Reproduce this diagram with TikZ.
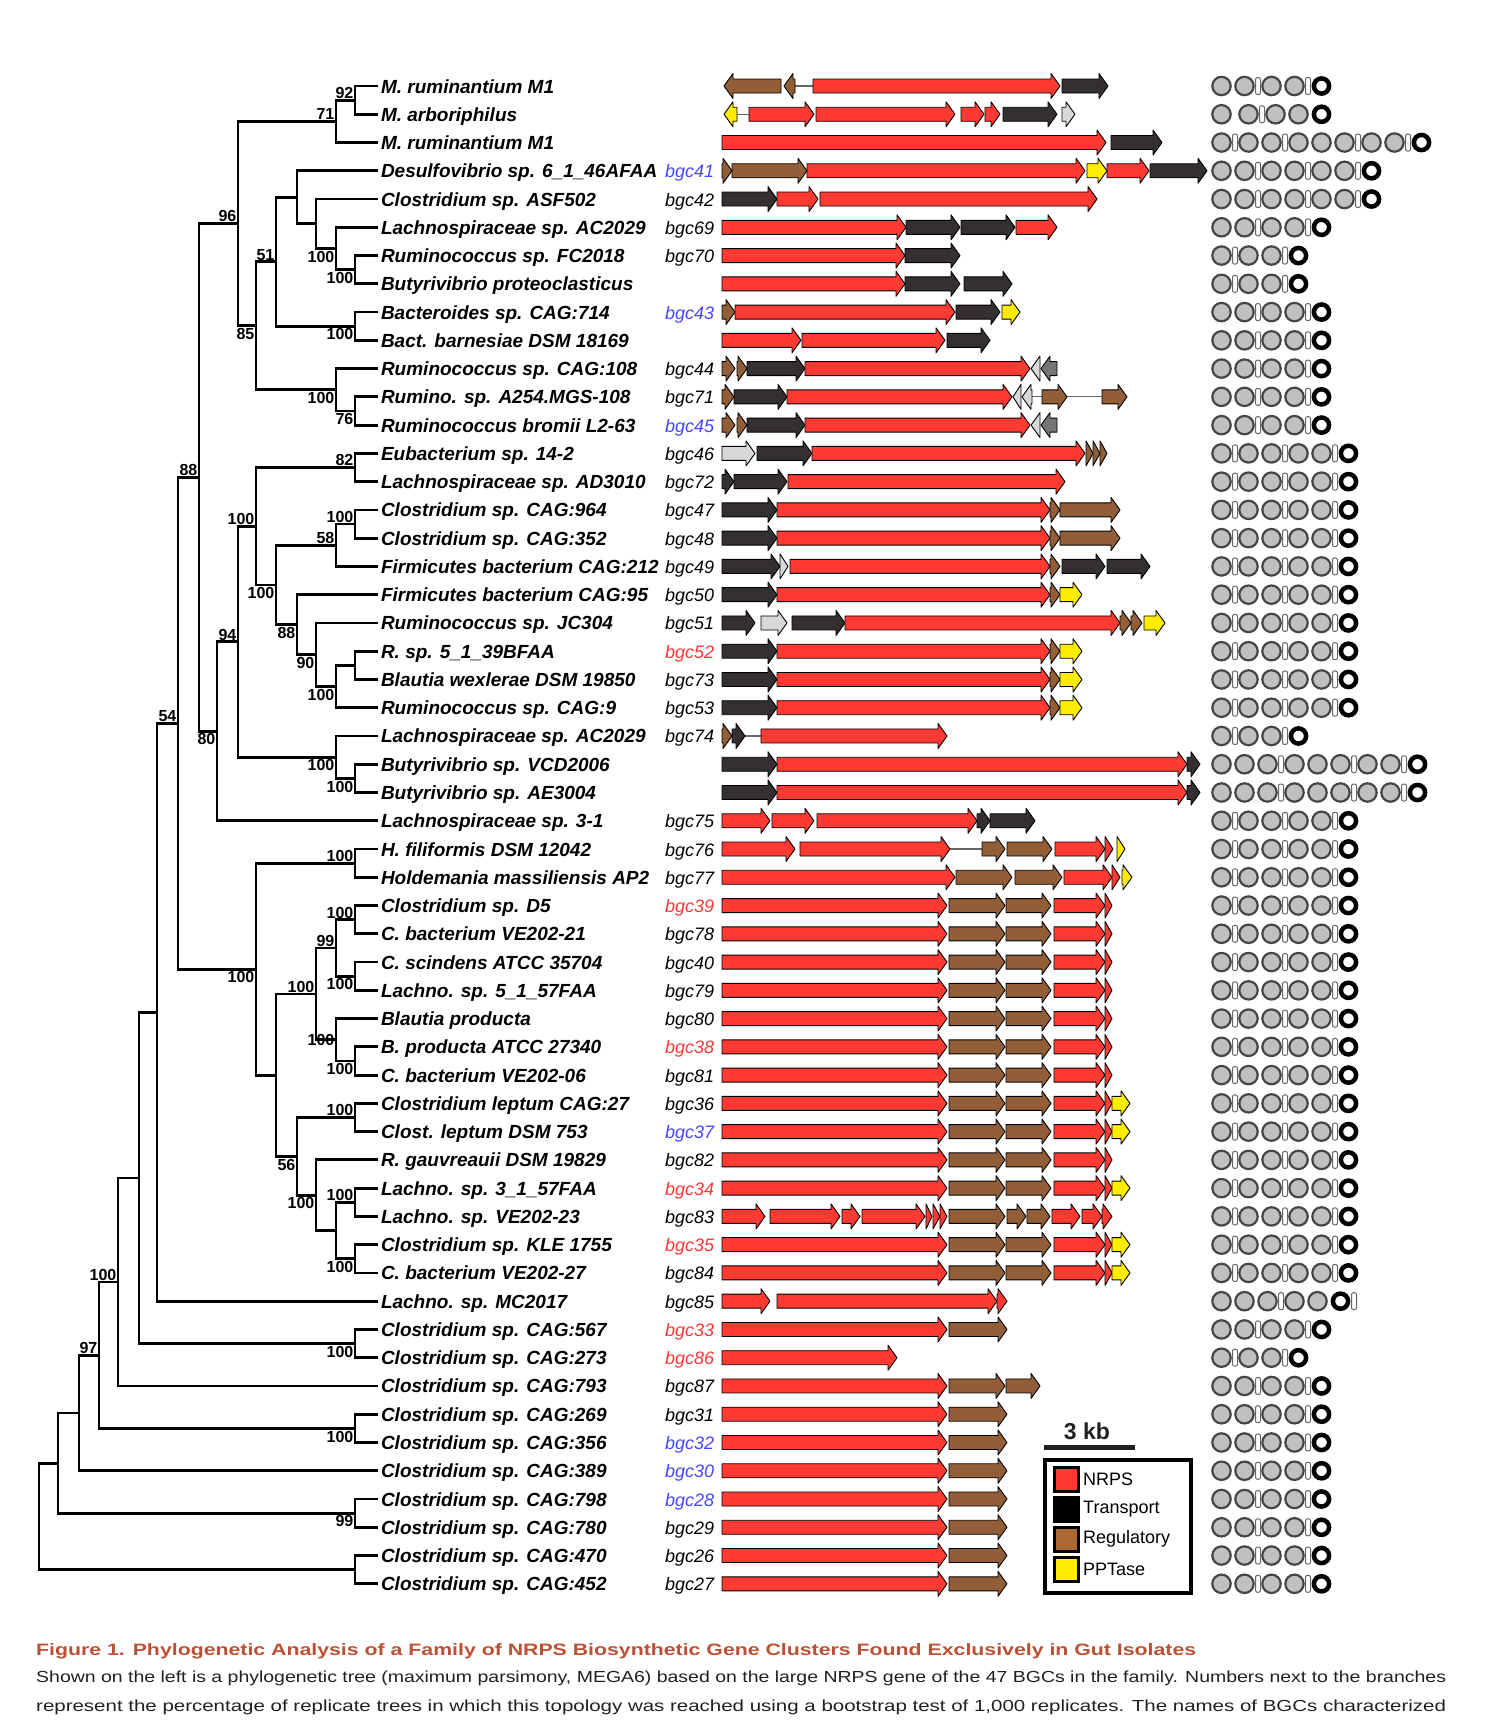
\documentclass[tikz,border=0pt]{standalone}
\usepackage{fontspec}
\setmainfont{Liberation Sans}
\usetikzlibrary{positioning}

\definecolor{nrpsred}{RGB}{255,58,51}
\definecolor{transgray}{RGB}{52,48,50}
\definecolor{regubrown}{RGB}{146,94,56}
\definecolor{keybrown}{RGB}{172,104,50}
\definecolor{pptyellow}{RGB}{255,236,0}
\definecolor{otherlight}{RGB}{216,216,216}
\definecolor{othergrey}{RGB}{118,118,118}
\definecolor{domgray}{RGB}{192,192,192}
\definecolor{domring}{RGB}{70,70,70}
\definecolor{bgcblue}{RGB}{70,70,255}
\definecolor{bgcred}{RGB}{255,55,55}
\definecolor{capred}{RGB}{188,80,52}
\definecolor{captext}{RGB}{35,31,32}

\tikzset{
  branch/.style={line width=2.8pt},
  taxon/.style={anchor=west, inner sep=0pt, outer sep=3pt, text height=14pt, text depth=0pt,
    font=\fontsize{19}{21}\selectfont\bfseries\itshape},
  bgc/.style={anchor=west, inner sep=0pt, text height=14pt, text depth=0pt,
    font=\fontsize{18}{20}\selectfont\itshape},
  bs/.style={inner sep=1.5pt, text height=12pt, text depth=0pt,
    font=\fontsize{16}{18}\selectfont\bfseries},
  gene/.style={draw=black, line width=0.9pt, line join=round},
  gnrps/.style={gene, fill=nrpsred},
  gtrans/.style={gene, fill=transgray},
  greg/.style={gene, fill=regubrown},
  gppt/.style={gene, fill=pptyellow},
  gother/.style={gene, fill=otherlight},
  ggrey/.style={gene, fill=othergrey},
  adom/.style={fill=domgray, draw=domring, line width=2.2pt},
  tedom/.style={fill=white, draw=black, line width=4.5pt},
  tdom/.style={fill=white, draw=black!60, line width=1pt, rounded corners=2pt},
  key/.style={draw=black, line width=3pt, minimum size=24pt, inner sep=0pt},
  keytext/.style={inner sep=0pt, font=\fontsize{18}{20}\selectfont},
  capline/.style={anchor=base west, inner sep=0pt}
}

\newlength\fitw
\newcommand{\fitline}[2]{\settowidth{\fitw}{#2}\pgfmathsetmacro\fitr{#1/\fitw}\scalebox{\fitr}[1]{#2}}

\newcommand{\gR}[4]{%
  \pgfmathsetmacro\gy{86+(#3-1)*28.26}%
  \pgfmathsetmacro\gh{min(9,#2-#1)}%
  \path[#4] (#1,\gy-7) -- ({#2-\gh},\gy-7) -- ({#2-\gh},\gy-12.5) -- (#2,\gy)
    -- ({#2-\gh},\gy+12.5) -- ({#2-\gh},\gy+7) -- (#1,\gy+7) -- cycle;}
\newcommand{\gL}[4]{%
  \pgfmathsetmacro\gy{86+(#3-1)*28.26}%
  \pgfmathsetmacro\gh{min(9,#2-#1)}%
  \path[#4] (#2,\gy-7) -- ({#1+\gh},\gy-7) -- ({#1+\gh},\gy-12.5) -- (#1,\gy)
    -- ({#1+\gh},\gy+12.5) -- ({#1+\gh},\gy+7) -- (#2,\gy+7) -- cycle;}
\newcommand{\gline}[3]{%
  \pgfmathsetmacro\gy{86+(#3-1)*28.26}%
  \draw[black!60, line width=1.2pt] (#1,\gy) -- (#2,\gy);}
\newcommand{\doms}[2]{%
  \pgfmathsetmacro\dy{86+(#1-1)*28.26}%
  \gdef\dcur{1210}%
  \foreach \dm in {#2}{%
    \if\dm t%
      \draw[tdom] ({\dcur-0.5},\dy-8.5) rectangle ({\dcur+4.5},\dy+8.5);%
      \pgfmathsetmacro\dnew{\dcur+4}%
    \else\if\dm g%
      \pgfmathsetmacro\dnew{\dcur+4}%
    \else\if\dm e%
      \draw[tedom] ({\dcur+11.5},\dy) circle [radius=7.6];%
      \pgfmathsetmacro\dnew{\dcur+23}%
    \else
      \draw[adom] ({\dcur+11.5},\dy) circle [radius=9.2];%
      \pgfmathsetmacro\dnew{\dcur+23}%
    \fi\fi\fi
    \xdef\dcur{\dnew}%
  }}

\begin{document}
\begin{tikzpicture}[x=1pt,y=-1pt]
\useasboundingbox (0,0) rectangle (1495,1725);

\foreach \r/\t in {1/{M. ruminantium M1}, 2/{M. arboriphilus}, 3/{M. ruminantium M1},
  4/{Desulfovibrio sp. 6\_1\_46AFAA}, 5/{Clostridium sp. ASF502}, 6/{Lachnospiraceae sp. AC2029},
  7/{Ruminococcus sp. FC2018}, 8/{Butyrivibrio proteoclasticus}, 9/{Bacteroides sp. CAG:714},
  10/{Bact. barnesiae DSM 18169}, 11/{Ruminococcus sp. CAG:108}, 12/{Rumino. sp. A254.MGS-108},
  13/{Ruminococcus bromii L2-63}, 14/{Eubacterium sp. 14-2}, 15/{Lachnospiraceae sp. AD3010},
  16/{Clostridium sp. CAG:964}, 17/{Clostridium sp. CAG:352}, 18/{Firmicutes bacterium CAG:212},
  19/{Firmicutes bacterium CAG:95}, 20/{Ruminococcus sp. JC304}, 21/{R. sp. 5\_1\_39BFAA},
  22/{Blautia wexlerae DSM 19850}, 23/{Ruminococcus sp. CAG:9}, 24/{Lachnospiraceae sp. AC2029},
  25/{Butyrivibrio sp. VCD2006}, 26/{Butyrivibrio sp. AE3004}, 27/{Lachnospiraceae sp. 3-1},
  28/{H. filiformis DSM 12042}, 29/{Holdemania massiliensis AP2}, 30/{Clostridium sp. D5},
  31/{C. bacterium VE202-21}, 32/{C. scindens ATCC 35704}, 33/{Lachno. sp. 5\_1\_57FAA},
  34/{Blautia producta}, 35/{B. producta ATCC 27340}, 36/{C. bacterium VE202-06},
  37/{Clostridium leptum CAG:27}, 38/{Clost. leptum DSM 753}, 39/{R. gauvreauii DSM 19829},
  40/{Lachno. sp. 3\_1\_57FAA}, 41/{Lachno. sp. VE202-23}, 42/{Clostridium sp. KLE 1755},
  43/{C. bacterium VE202-27}, 44/{Lachno. sp. MC2017}, 45/{Clostridium sp. CAG:567},
  46/{Clostridium sp. CAG:273}, 47/{Clostridium sp. CAG:793}, 48/{Clostridium sp. CAG:269},
  49/{Clostridium sp. CAG:356}, 50/{Clostridium sp. CAG:389}, 51/{Clostridium sp. CAG:798},
  52/{Clostridium sp. CAG:780}, 53/{Clostridium sp. CAG:470}, 54/{Clostridium sp. CAG:452}}
  \node[taxon] (s\r) at (378,{86+(\r-1)*28.26}) {\t};

\foreach \r/\b/\c in {4/41/bgcblue, 5/42/black, 6/69/black, 7/70/black, 9/43/bgcblue, 11/44/black,
  12/71/black, 13/45/bgcblue, 14/46/black, 15/72/black, 16/47/black, 17/48/black, 18/49/black,
  19/50/black, 20/51/black, 21/52/bgcred, 22/73/black, 23/53/black, 24/74/black, 27/75/black,
  28/76/black, 29/77/black, 30/39/bgcred, 31/78/black, 32/40/black, 33/79/black, 34/80/black,
  35/38/bgcred, 36/81/black, 37/36/black, 38/37/bgcblue, 39/82/black, 40/34/bgcred, 41/83/black,
  42/35/bgcred, 43/84/black, 44/85/black, 45/33/bgcred, 46/86/bgcred, 47/87/black, 48/31/black,
  49/32/bgcblue, 50/30/bgcblue, 51/28/bgcblue, 52/29/black, 53/26/black, 54/27/black}
  \node[bgc, text=\c] (b\r) at (665,{86+(\r-1)*28.26}) {bgc\b};

\coordinate (n1) at (355,100.2);   \coordinate (n2) at (336,121.3);
\coordinate (n3) at (355,269.7);   \coordinate (n4) at (336,248.5);
\coordinate (n5) at (316,223.8);   \coordinate (n6) at (297,197.3);
\coordinate (n7) at (355,326.2);   \coordinate (n8) at (276,261.8);
\coordinate (n9) at (355,411.0);   \coordinate (n10) at (336,389.8);
\coordinate (n11) at (256,325.8);  \coordinate (n12) at (238,223.6);
\coordinate (n13) at (355,467.5);  \coordinate (n14) at (355,524.0);
\coordinate (n15) at (336,545.2);  \coordinate (n16) at (355,665.3);
\coordinate (n17) at (336,686.5);  \coordinate (n18) at (316,654.7);
\coordinate (n19) at (297,624.7);  \coordinate (n20) at (276,585.0);
\coordinate (n21) at (256,526.2);  \coordinate (n22) at (355,778.3);
\coordinate (n23) at (336,757.2);  \coordinate (n24) at (238,641.7);
\coordinate (n25) at (217,731.2);  \coordinate (n26) at (199,477.4);
\coordinate (n27) at (355,863.2);  \coordinate (n28) at (355,919.7);
\coordinate (n29) at (355,976.2);  \coordinate (n30) at (336,948.0);
\coordinate (n31) at (355,1061.0); \coordinate (n32) at (336,1039.8);
\coordinate (n33) at (316,993.9);  \coordinate (n34) at (355,1117.5);
\coordinate (n35) at (355,1202.3); \coordinate (n36) at (355,1258.8);
\coordinate (n37) at (336,1230.5); \coordinate (n38) at (316,1195.2);
\coordinate (n39) at (297,1156.4); \coordinate (n40) at (276,1075.1);
\coordinate (n41) at (256,969.2);  \coordinate (n42) at (178,723.3);
\coordinate (n43) at (157,1012.2); \coordinate (n44) at (355,1343.6);
\coordinate (n45) at (139,1177.9); \coordinate (n46) at (118,1282.0);
\coordinate (n47) at (355,1428.4); \coordinate (n48) at (99,1355.2);
\coordinate (n49) at (79,1413.0);  \coordinate (n50) at (355,1513.2);
\coordinate (n51) at (58,1463.1);  \coordinate (n52) at (355,1569.7);
\coordinate (n53) at (39,1516.4);

\foreach \p/\c in {n1/s1, n1/s2, n2/n1, n2/s3, n3/s7, n3/s8, n4/s6, n4/n3, n5/s5, n5/n4,
  n6/s4, n6/n5, n7/s9, n7/s10, n8/n6, n8/n7, n9/s12, n9/s13, n10/s11, n10/n9, n11/n8, n11/n10,
  n12/n2, n12/n11, n13/s14, n13/s15, n14/s16, n14/s17, n15/n14, n15/s18, n16/s21, n16/s22,
  n17/n16, n17/s23, n18/s20, n18/n17, n19/s19, n19/n18, n20/n15, n20/n19, n21/n13, n21/n20,
  n22/s25, n22/s26, n23/s24, n23/n22, n24/n21, n24/n23, n25/n24, n25/s27, n26/n12, n26/n25,
  n27/s28, n27/s29, n28/s30, n28/s31, n29/s32, n29/s33, n30/n28, n30/n29, n31/s35, n31/s36,
  n32/s34, n32/n31, n33/n30, n33/n32, n34/s37, n34/s38, n35/s40, n35/s41, n36/s42, n36/s43,
  n37/n35, n37/n36, n38/s39, n38/n37, n39/n34, n39/n38, n40/n33, n40/n39, n41/n27, n41/n40,
  n42/n26, n42/n41, n43/n42, n43/s44, n44/s45, n44/s46, n45/n43, n45/n44, n46/n45, n46/s47,
  n47/s48, n47/s49, n48/n46, n48/n47, n49/n48, n49/s50, n50/s51, n50/s52, n51/n49, n51/n50,
  n52/s53, n52/s54, n53/n51, n53/n52}
  \draw[branch] (\p) |- (\c);

\foreach \n/\v/\a in {n1/92/south east, n2/71/south east, n3/100/north east, n4/100/north east,
  n7/100/north east, n8/51/south east, n9/76/north east, n10/100/north east, n11/85/north east,
  n12/96/south east, n13/82/south east, n14/100/south east, n15/58/south east,
  n17/100/north east, n18/90/north east, n19/88/north east, n20/100/north east,
  n21/100/south east, n22/100/north east, n23/100/north east, n24/94/south east,
  n25/80/north east, n26/88/south east, n27/100/south east, n28/100/south east,
  n29/100/north east, n30/99/south east, n31/100/north east, n32/100/east, n33/100/south east,
  n34/100/south east, n35/100/south east, n36/100/north east, n38/100/north east,
  n39/56/north east, n41/100/north east, n42/54/south east, n44/100/north east,
  n46/100/south east, n47/100/north east, n48/97/south east, n50/99/north east}
  \node[bs, anchor=\a] (v\n) at (\n) {\v};

\gline{795}{813}{1}
\gL{724}{781}{1}{greg} \gL{784}{795}{1}{greg} \gR{813}{1060}{1}{gnrps} \gR{1062}{1108}{1}{gtrans}
\gline{737}{749}{2}
\gL{724}{737}{2}{gppt} \gR{749}{814}{2}{gnrps} \gR{816}{955}{2}{gnrps} \gR{961}{984}{2}{gnrps}
\gR{985}{1000}{2}{gnrps} \gR{1003}{1057}{2}{gtrans} \gR{1062}{1075}{2}{gother}
\gR{722}{1106}{3}{gnrps} \gR{1111}{1162}{3}{gtrans}
\gR{722}{732}{4}{greg} \gR{732}{807}{4}{greg} \gR{807}{1085}{4}{gnrps} \gR{1087}{1107}{4}{gppt}
\gR{1107}{1149}{4}{gnrps} \gR{1150}{1207}{4}{gtrans}
\gR{722}{777}{5}{gtrans} \gR{777}{818}{5}{gnrps} \gR{820}{1097}{5}{gnrps}
\gR{722}{906}{6}{gnrps} \gR{906}{960}{6}{gtrans} \gR{961}{1015}{6}{gtrans} \gR{1016}{1057}{6}{gnrps}
\gR{722}{905}{7}{gnrps} \gR{905}{960}{7}{gtrans}
\gR{722}{905}{8}{gnrps} \gR{905}{960}{8}{gtrans} \gR{964}{1012}{8}{gtrans}
\gR{722}{735}{9}{greg} \gR{735}{955}{9}{gnrps} \gR{956}{1000}{9}{gtrans} \gR{1002}{1020}{9}{gppt}
\gR{722}{801}{10}{gnrps} \gR{802}{945}{10}{gnrps} \gR{947}{990}{10}{gtrans}
\foreach \r in {11,13} {
  \gR{722}{735}{\r}{greg} \gR{737}{747}{\r}{greg} \gR{747}{805}{\r}{gtrans}
  \gR{805}{1030}{\r}{gnrps} \gL{1031}{1040}{\r}{gother} \gL{1041}{1057}{\r}{ggrey}}
\gline{1032}{1102}{12}
\gR{722}{734}{12}{greg} \gR{734}{787}{12}{gtrans} \gR{787}{1012}{12}{gnrps} \gL{1013}{1021}{12}{gother}
\gL{1022}{1032}{12}{gother} \gR{1042}{1067}{12}{greg} \gR{1102}{1127}{12}{greg}
\gR{722}{755}{14}{gother} \gR{757}{812}{14}{gtrans} \gR{812}{1085}{14}{gnrps}
\gR{1086}{1093}{14}{greg} \gR{1093}{1100}{14}{greg} \gR{1100}{1107}{14}{greg}
\gR{722}{734}{15}{gtrans} \gR{734}{787}{15}{gtrans} \gR{788}{1065}{15}{gnrps}
\foreach \r in {16,17} {
  \gR{722}{777}{\r}{gtrans} \gR{777}{1050}{\r}{gnrps} \gR{1050}{1060}{\r}{greg} \gR{1060}{1120}{\r}{greg}}
\gR{722}{780}{18}{gtrans} \gR{780}{788}{18}{gother} \gR{790}{1050}{18}{gnrps} \gR{1050}{1060}{18}{greg}
\gR{1062}{1105}{18}{gtrans} \gR{1107}{1150}{18}{gtrans}
\foreach \r in {19,21,22,23} {
  \gR{722}{777}{\r}{gtrans} \gR{777}{1050}{\r}{gnrps} \gR{1050}{1060}{\r}{greg} \gR{1060}{1082}{\r}{gppt}}
\gR{722}{755}{20}{gtrans} \gR{761}{787}{20}{gother} \gR{792}{845}{20}{gtrans} \gR{845}{1120}{20}{gnrps}
\gR{1120}{1131}{20}{greg} \gR{1131}{1142}{20}{greg} \gR{1144}{1165}{20}{gppt}
\gline{745}{761}{24}
\gR{722}{732}{24}{greg} \gR{732}{745}{24}{gtrans} \gR{761}{947}{24}{gnrps}
\foreach \r in {25,26} {
  \gR{722}{777}{\r}{gtrans} \gR{777}{1187}{\r}{gnrps} \gR{1187}{1200}{\r}{gtrans}}
\gR{722}{770}{27}{gnrps} \gR{772}{814}{27}{gnrps} \gR{817}{977}{27}{gnrps} \gR{977}{990}{27}{gtrans}
\gR{990}{1035}{27}{gtrans}
\gline{950}{982}{28}
\gR{722}{795}{28}{gnrps} \gR{800}{950}{28}{gnrps} \gR{982}{1005}{28}{greg} \gR{1007}{1052}{28}{greg}
\gR{1055}{1105}{28}{gnrps} \gR{1105}{1113}{28}{gnrps} \gR{1117}{1125}{28}{gppt}
\gR{722}{955}{29}{gnrps} \gR{956}{1012}{29}{greg} \gR{1015}{1062}{29}{greg} \gR{1064}{1112}{29}{gnrps}
\gR{1112}{1120}{29}{gnrps} \gR{1122}{1132}{29}{gppt}
\foreach \r in {30,...,40,42,43} {
  \gR{722}{947}{\r}{gnrps} \gR{949}{1005}{\r}{greg} \gR{1006}{1051}{\r}{greg}
  \gR{1054}{1105}{\r}{gnrps} \gR{1105}{1112}{\r}{gnrps}}
\foreach \r in {37,38,40,42,43} {\gR{1112}{1130}{\r}{gppt}}
\gR{722}{765}{41}{gnrps} \gR{770}{840}{41}{gnrps} \gR{842}{860}{41}{gnrps} \gR{862}{925}{41}{gnrps}
\gR{926}{932}{41}{gnrps} \gR{933}{940}{41}{gnrps} \gR{940}{947}{41}{gnrps} \gR{949}{1005}{41}{greg}
\gR{1007}{1026}{41}{greg} \gR{1027}{1050}{41}{greg} \gR{1052}{1080}{41}{gnrps}
\gR{1082}{1102}{41}{gnrps} \gR{1102}{1112}{41}{gnrps}
\gR{722}{770}{44}{gnrps} \gR{777}{997}{44}{gnrps} \gR{997}{1007}{44}{gnrps}
\gR{722}{897}{46}{gnrps}
\gR{722}{947}{47}{gnrps} \gR{949}{1005}{47}{greg} \gR{1006}{1040}{47}{greg}
\foreach \r in {45,48,49,...,54} {\gR{722}{947}{\r}{gnrps} \gR{949}{1007}{\r}{greg}}

\foreach \r in {1,6,9,10,11,12,13,45,47,48,...,54} {\doms{\r}{a,a,t,a,a,t,e}}
\doms{2}{a,g,a,t,a,a,e}
\doms{3}{a,t,a,a,t,a,a,a,t,a,a,t,e}
\foreach \r in {4,5} {\doms{\r}{a,a,t,a,a,t,a,a,t,e}}
\foreach \r in {7,8,24,46} {\doms{\r}{a,t,a,a,t,e}}
\foreach \r in {14,...,23,27,28,...,43} {\doms{\r}{a,t,a,a,t,a,a,t,e}}
\foreach \r in {25,26} {\doms{\r}{a,a,a,t,a,a,a,t,a,a,t,e}}
\doms{44}{a,a,a,t,a,a,e,t}

\node[font=\fontsize{23}{25}\selectfont\bfseries, text=captext] (kb) at (1087,1431) {3 kb};
\coordinate (bar1) at (1044,1447);
\coordinate (bar2) at (1135,1447);
\draw[line width=5pt, captext] (bar1) -- (bar2);
\node[draw, line width=3.5pt, minimum width=146pt, minimum height=133pt, inner sep=0pt] (legend) at (1118,1526.5) {};
\node[key, fill=nrpsred] (k1) at (1066.5,1479) {};
\node[key, fill=black, below=3pt of k1] (k2) {};
\node[key, fill=keybrown, below=3pt of k2] (k3) {};
\node[key, fill=pptyellow, below=3pt of k3] (k4) {};
\node[keytext, right=3pt of k1] (t1) {NRPS};
\node[keytext, right=3pt of k2] (t2) {Transport};
\node[keytext, right=3pt of k3] (t3) {Regulatory};
\node[keytext, right=3pt of k4] (t4) {PPTase};

\node[capline, text=capred, font=\fontsize{16.5}{19}\selectfont\bfseries] (cap0) at (36,1655)
  {\fitline{1160pt}{Figure 1. Phylogenetic Analysis of a Family of NRPS Biosynthetic Gene Clusters Found Exclusively in Gut Isolates}};
\node[capline, text=captext, font=\fontsize{16}{19}\selectfont] (cap1) at (36,1682)
  {\fitline{1410pt}{Shown on the left is a phylogenetic tree (maximum parsimony, MEGA6) based on the large NRPS gene of the 47 BGCs in the family. Numbers next to the branches}};
\node[capline, text=captext, font=\fontsize{16}{19}\selectfont] (cap2) at (36,1711)
  {\fitline{1410pt}{represent the percentage of replicate trees in which this topology was reached using a bootstrap test of 1,000 replicates. The names of BGCs characterized}};
\end{tikzpicture}
\end{document}
